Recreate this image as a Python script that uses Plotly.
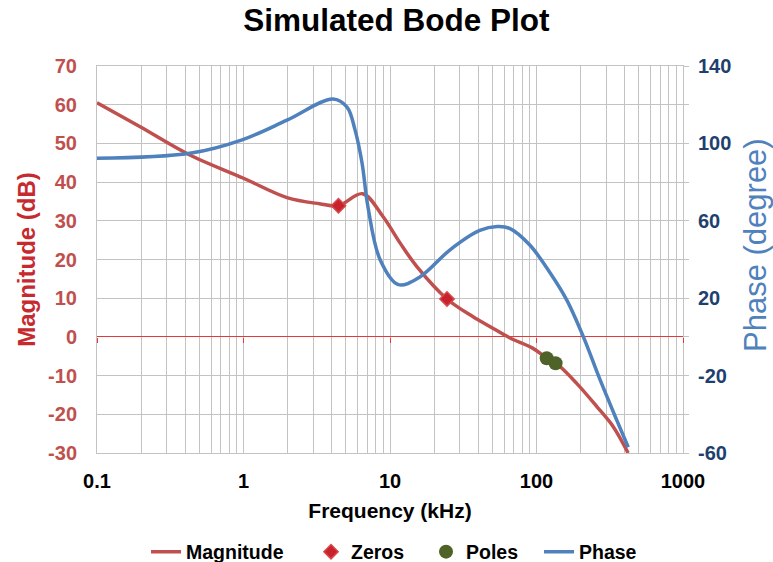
import plotly.graph_objects as go

# Magnitude response (kHz, dB)
freq_mag = [0.1, 0.197, 0.43, 1.0, 1.98, 3.3, 4.45, 6.5, 8.95, 11.7, 15.3, 24.5, 36.9, 48, 66, 94, 118, 136, 188, 258, 334, 422]
mag_db = [60.5, 54.3, 47, 41, 36, 34.4, 33.9, 37, 31.1, 24.3, 18.1, 9.8, 5.2, 2.7, -0.3, -2.9, -5.5, -6.8, -12, -18, -23.2, -30]

# Zeros and poles located on the magnitude curve
zero_freq = [4.45, 24.5]
zero_db = [33.9, 9.8]
pole_freq = [117.4, 135]
pole_db = [-5.5, -6.8]

# Phase response (kHz, degree)
freq_ph = [0.1, 0.43, 0.99, 1.98, 4.08, 5.09, 5.77, 6.44, 7.08, 8.55, 11.4, 16, 25.7, 41, 54, 66, 90, 124, 161, 209, 271, 353, 423]
phase_deg = [92.3, 94.9, 102, 112, 123, 118.8, 107, 90, 67, 40, 27, 31, 45, 55, 57, 56, 47.5, 33, 19, 0, -22, -43, -57]

# Axis ticks
decades = [0.1, 1, 10, 100, 1000]
decade_labels = ["0.1", "1", "10", "100", "1000"]
mag_ticks = list(range(-30, 71, 10))
phase_ticks = list(range(-60, 141, 20))

grid_vals, grid_text = [], []
for e in range(-1, 3):
    for m in range(1, 10):
        v = round(m * 10 ** e, 6)
        grid_vals.append(v)
        grid_text.append(f"<b>{decade_labels[e + 1]}</b>" if m == 1 else "")
grid_vals.append(1000)
grid_text.append("<b>1000</b>")

mag_text = [f"<b>{v}</b>" for v in mag_ticks]
phase_text = [f"<b>{v}</b>" if (v + 60) % 40 == 0 else "" for v in phase_ticks]

FONT = "Liberation Sans, Arial, Helvetica, sans-serif"
RED = "#c0504d"
BLUE = "#4f81bd"
GRID = "#c3c3c3"
AXIS_RED = "#e23a3a"

fig = go.Figure()
fig.add_trace(go.Scatter(
    x=freq_mag, y=mag_db, name="<b>Magnitude</b>", mode="lines", legendwidth=120,
    line=dict(color=RED, width=3.5, shape="spline", smoothing=1.0),
))
fig.add_trace(go.Scatter(
    x=zero_freq, y=zero_db, name="<b>Zeros</b>", mode="markers", legendwidth=70,
    marker=dict(symbol="diamond", size=11, color="#c8232c",
                line=dict(color="#d84848", width=1.5)),
))
fig.add_trace(go.Scatter(
    x=pole_freq, y=pole_db, name="<b>Poles</b>", mode="markers", legendwidth=68,
    marker=dict(symbol="circle", size=14, color="#4f6228"),
))
fig.add_trace(go.Scatter(
    x=freq_ph, y=phase_deg, name="<b>Phase</b>", mode="lines", yaxis="y2", legendwidth=57,
    line=dict(color=BLUE, width=3.5, shape="spline", smoothing=1.0),
))
# carrier for the tick marks drawn along 0 dB
fig.add_trace(go.Scatter(
    x=[0.1, 1000], y=[0, 0], xaxis="x3", yaxis="y", mode="lines",
    line=dict(width=0), showlegend=False, hoverinfo="skip",
))

fig.update_layout(
    width=773, height=562,
    margin=dict(l=97, r=90, t=66, b=109),
    paper_bgcolor="white", plot_bgcolor="white",
    font=dict(family=FONT, color="black"),
    title=dict(text="<b>Simulated Bode Plot</b>", xref="paper", x=0.511, xanchor="center",
               y=1 - 20 / 562, yanchor="middle", font=dict(size=31.5, color="black")),
    xaxis=dict(
        type="log", range=[-1, 3], automargin=False,
        tickvals=grid_vals, ticktext=grid_text,
        showgrid=True, gridcolor=GRID, gridwidth=1,
        showline=True, linecolor=GRID, mirror=True,
        ticks="", tickfont=dict(size=20, color="black"),
        ticklabelstandoff=10,
        title=dict(text="<b>Frequency (kHz)</b>", font=dict(size=21, color="black"), standoff=12),
        zeroline=False,
    ),
    xaxis3=dict(
        type="log", range=[-1, 3], overlaying="x", anchor="free", position=0.3,
        showline=False,
        ticks="outside", ticklen=5, tickcolor=AXIS_RED, tickwidth=1,
        tickvals=decades, showticklabels=False, showgrid=False, zeroline=False,
    ),
    yaxis=dict(
        range=[-30, 70], tickvals=mag_ticks, ticktext=mag_text, automargin=False,
        showgrid=True, gridcolor=GRID, gridwidth=1,
        showline=True, linecolor=GRID,
        zeroline=True, zerolinecolor=AXIS_RED, zerolinewidth=1,
        ticks="", tickfont=dict(size=20, color=RED),
        ticklabelstandoff=15,
        title=dict(text="<b>Magnitude (dB)</b>", font=dict(size=24, color="#c62a2f"), standoff=5),
    ),
    yaxis2=dict(
        range=[-60, 140], tickvals=phase_ticks, ticktext=phase_text, automargin=False,
        overlaying="y", side="right", showgrid=False, zeroline=False,
        showline=True, linecolor=GRID,
        ticks="outside", ticklen=5, tickcolor=GRID,
        tickfont=dict(size=20, color="#1f3f6e"),
        ticklabelstandoff=5,
    ),
    annotations=[dict(
        text="Phase (degree)", textangle=-90, showarrow=False,
        xref="paper", yref="paper", x=1.1246, y=0.5375,
        xanchor="center", yanchor="middle",
        font=dict(size=31, color=BLUE, family=FONT),
    )],
    legend=dict(
        orientation="h", x=0.506, xanchor="center",
        yref="container", y=1 - 552 / 562, yanchor="middle",
        font=dict(size=19.5, color="black"),
        traceorder="normal",
    ),
    showlegend=True,
)

fig.write_html("out.html")
